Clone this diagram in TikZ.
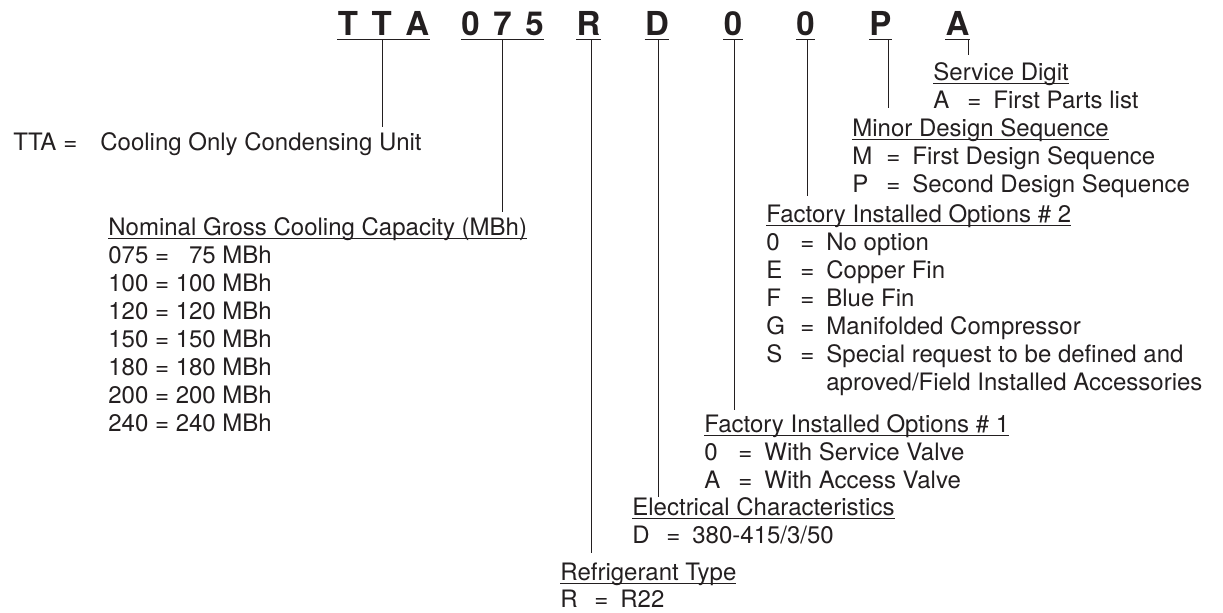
\documentclass[tikz,border=0pt]{standalone}
\usepackage{fontspec}
\setmainfont{TeX Gyre Heros}
\definecolor{ink}{HTML}{231F20}
\newcommand\myul[1]{\setbox0\hbox{#1}\rlap{\rule[-2pt]{\wd0}{0.6pt}}\box0}
\newcommand\kv[2]{\makebox[17pt][l]{#1}\makebox[7pt]{=}\hspace{6pt}#2}
\begin{document}
\begin{tikzpicture}[x=0.5pt,y=-0.5pt,
  every node/.style={inner sep=0pt,text=ink,font=\fontsize{12}{14}\selectfont},
  txt/.style={anchor=base west},
  codebox/.style={anchor=base,font=\fontsize{16.5}{18}\selectfont\bfseries,inner xsep=0pt,inner ysep=2pt,text depth=0pt},
  ulline/.style={line width=0.75pt,draw=ink},
  stem/.style={line width=0.5pt,draw=ink}]
\useasboundingbox (0,0) rectangle (1223,612);

% model code letters
\node[codebox] (g1) at (383.5,35) {T\hspace{6.8pt}T\hspace{6.8pt}A};
\node[codebox] (g2) at (502.5,35) {0\hspace{6.8pt}7\hspace{6.8pt}5};
\node[codebox] (g3) at (588.5,35) {R};
\node[codebox] (g4) at (657,35) {D};
\node[codebox] (g5) at (733,35) {0};
\node[codebox] (g6) at (805.5,35) {0};
\node[codebox] (g7) at (880.5,35) {P};
\node[codebox] (g8) at (957.5,35) {A};
\foreach \g in {g1,g2,g3,g4,g5,g6,g7,g8}
  \draw[ulline] (\g.south west) -- (\g.south east);

% stem ends
\coordinate (e1) at (382,127);
\coordinate (e2) at (502,212);
\coordinate (e3) at (591,553);
\coordinate (e4) at (658,497);
\coordinate (e5) at (734,410);
\coordinate (e6) at (807,196);
\coordinate (e7) at (888,108);
\coordinate (e8) at (968,55);
\draw[stem] (e1 |- g1.south) -- (e1);
\draw[stem] (e2 |- g2.south) -- (e2);
\draw[stem] (e3 |- g3.south) -- (e3);
\draw[stem] (e4 |- g4.south) -- (e4);
\draw[stem] (e5 |- g5.south) -- (e5);
\draw[stem] (e6 |- g6.south) -- (e6);
\draw[stem] (e7 |- g7.south) -- (e7);
\draw[stem] (e8 |- g8.south) -- (e8);

% TTA
\node[txt] (t1) at (13,150) {\makebox[25pt][l]{TTA}\makebox[7pt]{=}\hspace{11.5pt}Cooling Only Condensing Unit};

% Nominal capacity
\node[txt] (n0) at (108,235) {\myul{Nominal Gross Cooling Capacity (MBh)}};
\node[txt] (n1) at (108,263) {075 = \phantom{1}75 MBh};
\node[txt] (n2) at (108,291) {100 = 100 MBh};
\node[txt] (n3) at (108,319) {120 = 120 MBh};
\node[txt] (n4) at (108,347) {150 = 150 MBh};
\node[txt] (n5) at (108,375) {180 = 180 MBh};
\node[txt] (n6) at (108,403) {200 = 200 MBh};
\node[txt] (n7) at (108,431) {240 = 240 MBh};

% Service digit
\node[txt] (s0) at (933,80) {\myul{Service Digit}};
\node[txt] (s1) at (933,108) {\kv{A}{First Parts list}};

% Minor design
\node[txt] (m0) at (852,136) {\myul{Minor Design Sequence}};
\node[txt] (m1) at (852,164) {\kv{M}{First Design Sequence}};
\node[txt] (m2) at (852,192) {\kv{P}{Second Design Sequence}};

% Factory options 2
\node[txt] (f0) at (766,222) {\myul{Factory Installed Options \# 2}};
\node[txt] (f1) at (766,250) {\kv{0}{No option}};
\node[txt] (f2) at (766,278) {\kv{E}{Copper Fin}};
\node[txt] (f3) at (766,306) {\kv{F}{Blue Fin}};
\node[txt] (f4) at (766,334) {\kv{G}{Manifolded Compressor}};
\node[txt] (f5) at (766,362) {\kv{S}{Special request to be defined and}};
\node[txt] (f6) at (826,390) {aproved/Field Installed Accessories};

% Factory options 1
\node[txt] (o0) at (704,432) {\myul{Factory Installed Options \# 1}};
\node[txt] (o1) at (704,460) {\kv{0}{With Service Valve}};
\node[txt] (o2) at (704,488) {\kv{A}{With Access Valve}};

% Electrical
\node[txt] (d0) at (632,515) {\myul{Electrical Characteristics}};
\node[txt] (d1) at (632,543) {\kv{D}{380-415/3/50}};

% Refrigerant
\node[txt] (r0) at (560,580) {\myul{Refrigerant Type}};
\node[txt] (r1) at (560,607) {\kv{R}{R22}};
\end{tikzpicture}
\end{document}
